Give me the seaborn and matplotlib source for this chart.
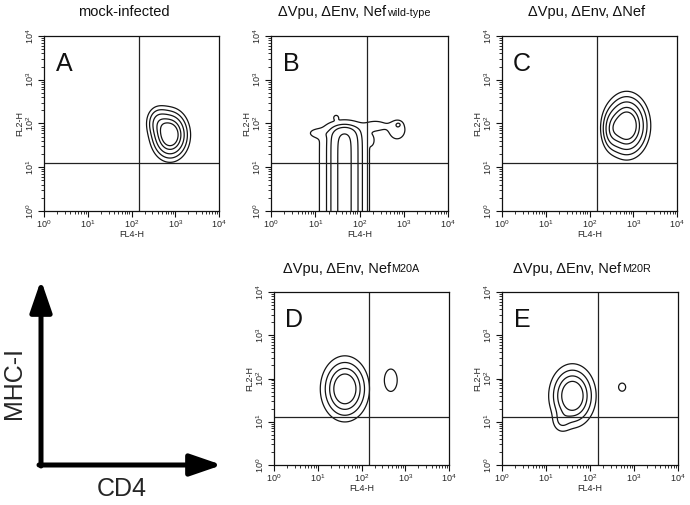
import matplotlib
matplotlib.use("Agg")
import matplotlib.pyplot as plt
import numpy as np
import seaborn as sns
from matplotlib.ticker import LogLocator, LogFormatterSciNotation, NullFormatter

# quadrant gates (FL4-H, FL2-H)
gate_x = 150
gate_y = 12.6

panel_letters = ["A", "B", "C", "D", "E"]
panel_titles = ["mock-infected",
                "\u0394Vpu, \u0394Env, Nef",
                "\u0394Vpu, \u0394Env, \u0394Nef",
                "\u0394Vpu, \u0394Env, Nef",
                "\u0394Vpu, \u0394Env, Nef"]
title_suffix = ["", "wild-type", "", "M20A", "M20R"]

# cell populations, log10 units:
# (FL4 centre, FL2 centre, FL4 spread, FL2 spread, weight)
blobs_a = [(2.88, 1.74, 0.21, 0.28, 1.0), (2.6, 2.05, 0.15, 0.2, 0.25)]
blobs_b = [(1.02, 1.78, 0.13, 0.07, 0.28), (2.38, 1.95, 0.17, 0.09, 0.36),
           (2.85, 1.86, 0.16, 0.19, 0.42), (2.88, 1.98, 0.05, 0.04, 0.2),
           (2.28, 1.62, 0.04, 0.08, 0.22), (1.47, 2.14, 0.035, 0.035, 0.35)]
blobs_c = [(2.85, 1.95, 0.245, 0.35, 1.0), (2.5, 1.85, 0.12, 0.25, 0.25)]
blobs_d = [(1.62, 1.76, 0.25, 0.34, 1.0), (2.67, 1.96, 0.13, 0.23, 0.15)]
blobs_e = [(1.6, 1.6, 0.24, 0.33, 1.0), (1.35, 1.0, 0.12, 0.15, 0.15),
           (2.73, 1.8, 0.12, 0.14, 0.1)]
# populations piled against the bottom of the scale:
# (FL4 centre, FL2 top, FL4 spread, top edge softness, weight)
columns_b = [(1.66, 1.97, 0.33, 0.19, 1.0)]

levels_a = [0.08, 0.165, 0.3, 0.49, 0.67]
levels_b = [0.23, 0.47, 0.65, 0.9]
levels_c = [0.08, 0.165, 0.3, 0.49, 0.67]
levels_d = [0.08, 0.2, 0.38, 0.6]
levels_e = [0.08, 0.2, 0.38, 0.6]

# axes boxes in pixels: left, top, right, bottom
boxes = [(44, 36, 219, 211), (271, 36, 448, 211), (502, 36, 677, 211),
         (274, 292, 449, 465), (502, 292, 678, 465)]
title_x = [0.457, 0.04, 0.486, 0.05, 0.063]

W, H = 690, 505

sns.set_theme(style="ticks")
plt.rcParams["font.family"] = ["Liberation Sans", "DejaVu Sans"]
plt.rcParams["mathtext.fontset"] = "custom"
plt.rcParams["mathtext.rm"] = "Liberation Sans"
plt.rcParams["mathtext.default"] = "regular"


def density(blobs, columns, gx, gy):
    z = np.zeros_like(gx)
    for cx, cy, sx, sy, w in blobs:
        z += w * np.exp(-0.5 * ((gx - cx) / sx) ** 2 - 0.5 * ((gy - cy) / sy) ** 2)
    for cx, top, sx, edge, w in columns:
        z += w * np.exp(-0.5 * ((gx - cx) / sx) ** 2) * 0.5 * (1 + np.tanh((top - gy) / edge))
    return z / z.max()


def facs_panel(fig, box, blobs, columns, levels, letter, title, suffix, tx):
    l, t, r, b = box
    ax = fig.add_axes([l / W, 1 - b / H, (r - l) / W, (b - t) / H])
    g = np.linspace(-0.6, 4.2, 320)
    gx, gy = np.meshgrid(g, g)
    z = density(blobs, columns, gx, gy)
    ax.contour(10 ** gx, 10 ** gy, z, levels=levels, colors="#141414", linewidths=0.9)
    ax.set_xscale("log")
    ax.set_yscale("log")
    ax.set_xlim(1, 1e4)
    ax.set_ylim(1, 1e4)
    ax.axvline(gate_x, color="#222222", lw=0.9)
    ax.axhline(gate_y, color="#222222", lw=0.9)
    for axis in (ax.xaxis, ax.yaxis):
        axis.set_major_locator(LogLocator(base=10, numticks=6))
        axis.set_major_formatter(LogFormatterSciNotation())
        axis.set_minor_locator(LogLocator(base=10, subs=np.arange(2, 10), numticks=20))
        axis.set_minor_formatter(NullFormatter())
    ax.tick_params(which="major", length=4, width=0.8, labelsize=6.5, pad=1.5, color="#111111")
    ax.tick_params(which="minor", length=2, width=0.6, color="#111111")
    ax.tick_params(axis="y", labelrotation=90)
    for lab in ax.get_yticklabels():
        lab.set_va("center")
    ax.set_xlabel("FL4-H", fontsize=6.5, labelpad=0)
    ax.set_ylabel("FL2-H", fontsize=6.5, labelpad=0)
    for s in ax.spines.values():
        s.set_linewidth(0.9)
        s.set_color("#111111")
    ax.text(0.115, 0.84, letter, transform=ax.transAxes, fontsize=18,
            ha="center", va="center", color="#111111")
    ha = "center" if not suffix else "left"
    main = ax.text(tx, 1.135, title, transform=ax.transAxes, fontsize=10.5,
                   ha=ha, va="center", color="#111111")
    if suffix:
        ax.annotate(suffix, xy=(1, 0), xycoords=main, xytext=(0.5, 1),
                    textcoords="offset points", fontsize=7.8,
                    ha="left", va="bottom", color="#111111")
    return ax


fig = plt.figure(figsize=(W / 100, H / 100), dpi=100)
all_blobs = [blobs_a, blobs_b, blobs_c, blobs_d, blobs_e]
all_columns = [[], columns_b, [], [], []]
all_levels = [levels_a, levels_b, levels_c, levels_d, levels_e]
for i in range(5):
    facs_panel(fig, boxes[i], all_blobs[i], all_columns[i], all_levels[i],
               panel_letters[i], panel_titles[i], title_suffix[i], title_x[i])

# legend panel with the two marker axes
leg = fig.add_axes([0, 0, 240 / W, 245 / H])
leg.set_xlim(0, 240)
leg.set_ylim(245, 0)
leg.axis("off")
arrow = dict(arrowstyle="-|>,head_length=1.6,head_width=0.55", color="black", lw=3.6,
             shrinkA=0, shrinkB=0)
leg.annotate("", xy=(41, 20), xytext=(41, 206), arrowprops=arrow)
leg.annotate("", xy=(222, 205), xytext=(39, 205), arrowprops=arrow)
leg.text(122, 229, "CD4", fontsize=18, ha="center", va="center")
leg.text(14, 123, "MHC-I", fontsize=18, ha="center", va="center", rotation=90)

fig.savefig("out.png", dpi=100)
